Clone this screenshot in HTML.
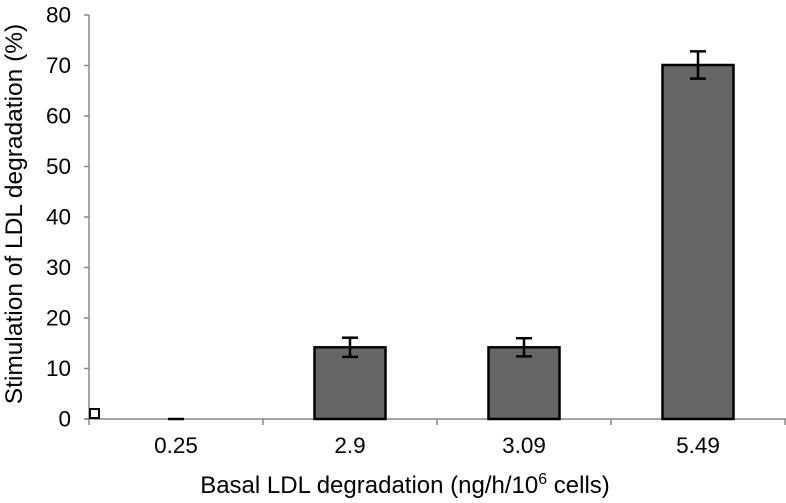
<!DOCTYPE html>
<html><head><meta charset="utf-8"><style>
body{margin:0;background:#fff;}
svg{display:block;font-family:"Liberation Sans",sans-serif;}
</style></head><body>
<svg id="chart" width="786" height="503">
<g id="axes"></g><g id="bars"></g>
<text x="405" y="493" font-size="24" text-anchor="middle">Basal LDL degradation (ng/h/10<tspan font-size="16" dy="-9">6</tspan><tspan dy="9"> cells)</tspan></text>
<text transform="translate(22,214) rotate(-90)" font-size="24.5" text-anchor="middle">Stimulation of LDL degradation (%)</text>
</svg>
<script>
const categories=["0.25","2.9","3.09","5.49"];
const values=[0,14.2,14.2,70.1];
const errors=[0,1.9,1.8,2.7];
const yTicks=[0,10,20,30,40,50,60,70,80];
const NS="http://www.w3.org/2000/svg";
const x0=89,catW=174,yBase=419,yTop=15,yMax=80;
function y(v){return yBase-(v/yMax)*(yBase-yTop);}
function xc(i){return x0+catW*(i+0.5);}
function mk(tag,attrs,parent,text){const e=document.createElementNS(NS,tag);for(const k in attrs)e.setAttribute(k,attrs[k]);if(text!==undefined)e.textContent=text;parent.appendChild(e);return e;}
const axes=document.getElementById('axes'),bars=document.getElementById('bars');
let e=mk('line',{x1:x0,y1:yTop,x2:x0,y2:yBase,stroke:'#888','stroke-width':1.5},axes);


e=mk('line',{x1:x0-4,y1:yBase,x2:x0+catW*categories.length+2,y2:yBase,stroke:'#888','stroke-width':1.5},axes);


yTicks.forEach(t=>{
 mk('line',{x1:x0-5,y1:y(t),x2:x0,y2:y(t),stroke:'#888','stroke-width':1.5},axes);
 const l=mk('text',{x:x0-18,y:y(t)+7.5,'font-size':22.5,'text-anchor':'end'},axes,String(t));
 
 
});
for(let i=0;i<=categories.length;i++){mk('line',{x1:x0+catW*i,y1:yBase,x2:x0+catW*i,y2:yBase+6,stroke:'#888','stroke-width':1.5},axes);}
categories.forEach((c,i)=>{
 const l=mk('text',{x:xc(i),y:453,'font-size':22.5,'text-anchor':'middle'},axes,c);
 
 
 const bw=71,v=values[i];
 if(v>0){
  const r=mk('rect',{x:xc(i)-bw/2,y:y(v),width:bw,height:yBase-y(v),fill:'#666',stroke:'#000','stroke-width':2.5},bars);
  
  
 } else {
  const r=mk('line',{x1:xc(i)-8,y1:y(v),x2:xc(i)+8,y2:y(v),stroke:'#000','stroke-width':2.5},bars);
  
  
 }
 if(errors[i]>0){
  const g=mk('g',{stroke:'#000','stroke-width':2.5},bars);
  
  
  mk('line',{x1:xc(i),y1:y(v+errors[i]),x2:xc(i),y2:y(v-errors[i])},g);
  mk('line',{x1:xc(i)-8,y1:y(v+errors[i]),x2:xc(i)+8,y2:y(v+errors[i])},g);
  mk('line',{x1:xc(i)-8,y1:y(v-errors[i]),x2:xc(i)+8,y2:y(v-errors[i])},g);
 }
});
e=mk('rect',{x:x0+1,y:yBase-10,width:9,height:9,fill:'#fff',stroke:'#000','stroke-width':2},axes);


</script>
</body></html>
